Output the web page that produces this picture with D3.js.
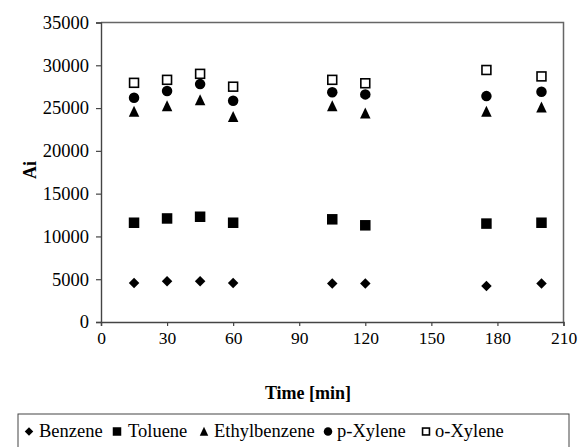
<!DOCTYPE html>
<html>
<head>
<meta charset="utf-8">
<script src="https://cdn.jsdelivr.net/npm/d3@7"></script>
<style>
  body { margin: 0; background: #fff; }
</style>
</head>
<body>
<svg width="579" height="447"></svg>
<script>
// data
const times = [15, 30, 45, 60, 105, 120, 175, 200]
const benzene = [4550, 4750, 4750, 4550, 4500, 4500, 4200, 4500]
const toluene = [11600, 12100, 12300, 11600, 12000, 11300, 11500, 11600]
const ethylbenzene = [24600, 25250, 25950, 24000, 25250, 24400, 24600, 25100]
const pXylene = [26200, 27000, 27800, 25850, 26850, 26600, 26400, 26900]
const oXylene = [27950, 28300, 29000, 27500, 28300, 27900, 29450, 28700]
const xTicks = [0, 30, 60, 90, 120, 150, 180, 210]
const yTicks = [0, 5000, 10000, 15000, 20000, 25000, 30000, 35000]

const series = [
    { name: "Benzene", values: benzene, shape: "diamond" },
    { name: "Toluene", values: toluene, shape: "square" },
    { name: "Ethylbenzene", values: ethylbenzene, shape: "triangle" },
    { name: "p-Xylene", values: pXylene, shape: "circle" },
    { name: "o-Xylene", values: oXylene, shape: "open" }
]

const FONT = "'Liberation Serif', 'Times New Roman', serif"
const svg = d3.select("svg")
const plotLeft = 101, plotRight = 563.5, plotTop = 22.5, plotBottom = 322

const x = d3.scaleLinear().domain([0, 210]).range([plotLeft, plotRight])
const y = d3.scaleLinear().domain([0, 35000]).range([plotBottom, plotTop])

// frame (top & right)
svg.append("path")
    .attr("d", `M${plotLeft},${plotTop}H${plotRight}V${plotBottom}`)
    .attr("fill", "none")
    .attr("stroke", "#666")
    .attr("stroke-width", 1.5)

const yAxis = svg.append("g")
    .attr("transform", `translate(${plotLeft},0)`)
    .call(d3.axisLeft(y).tickValues(yTicks).tickSize(5).tickPadding(7).tickFormat(d3.format("d")))
const xAxis = svg.append("g")
    .attr("transform", `translate(0,${plotBottom})`)
    .call(d3.axisBottom(x).tickValues(xTicks).tickSize(4).tickPadding(6).tickFormat(d3.format("d")))

for (const ax of [xAxis, yAxis]) {
    ax.select(".domain").attr("stroke", "#444").attr("stroke-width", 1.4)
    ax.selectAll(".tick line").attr("stroke", "#444").attr("stroke-width", 1.2)
    ax.selectAll("text")
        .style("font-family", FONT)
        .attr("fill", "#000")
}
yAxis.selectAll("text").style("font-size", "18.5px")
xAxis.selectAll("text").style("font-size", "17.5px")

// axis titles
svg.append("text")
    .attr("transform", "translate(36,170) rotate(-90)")
    .attr("text-anchor", "middle")
    .style("font-family", FONT)
    .style("font-weight", "bold")
    .style("font-size", "18px")
    .text("Ai")
svg.append("text")
    .attr("x", 308).attr("y", 399)
    .attr("text-anchor", "middle")
    .style("font-family", FONT)
    .style("font-weight", "bold")
    .style("font-size", "18px")
    .text("Time [min]")

function marker(g, shape, s) {
    const h = s / 2
    if (shape === "diamond") {
        g.append("path").attr("d", `M0,${-h}L${h},0L0,${h}L${-h},0Z`).attr("fill", "#000")
    } else if (shape === "square") {
        g.append("rect").attr("x", -h).attr("y", -h).attr("width", s).attr("height", s).attr("fill", "#000")
    } else if (shape === "triangle") {
        g.append("path").attr("d", `M0,${-h - 0.5}L${h},${h}L${-h},${h}Z`).attr("fill", "#000")
    } else if (shape === "circle") {
        g.append("circle").attr("r", h).attr("fill", "#000")
    } else {
        g.append("rect").attr("x", -h + 0.8).attr("y", -h + 0.8).attr("width", s - 1.6).attr("height", s - 1.6)
            .attr("fill", "#fff").attr("stroke", "#000").attr("stroke-width", 1.6)
    }
}

series.forEach(sr => {
    svg.append("g").selectAll("g")
        .data(sr.values)
        .enter()
        .append("g")
        .attr("transform", (d, i) => `translate(${x(times[i])},${y(d)})`)
        .each(function () { marker(d3.select(this), sr.shape, 10.5) })
})

// legend
svg.append("rect")
    .attr("x", 18).attr("y", 414)
    .attr("width", 551).attr("height", 40)
    .attr("fill", "#fff")
    .attr("stroke", "#444")
    .attr("stroke-width", 1)

const legendX = [29, 117, 204, 328, 426]
const legendTextX = [39, 128, 214, 337, 435]
series.forEach((sr, i) => {
    const g = svg.append("g").attr("transform", `translate(${legendX[i]},431.5)`)
    marker(g, sr.shape, 8.5)
    svg.append("text")
        .attr("x", legendTextX[i]).attr("y", 437)
        .style("font-family", FONT)
        .style("font-size", "18.5px")
        .text(sr.name)
})
</script>
</body>
</html>
